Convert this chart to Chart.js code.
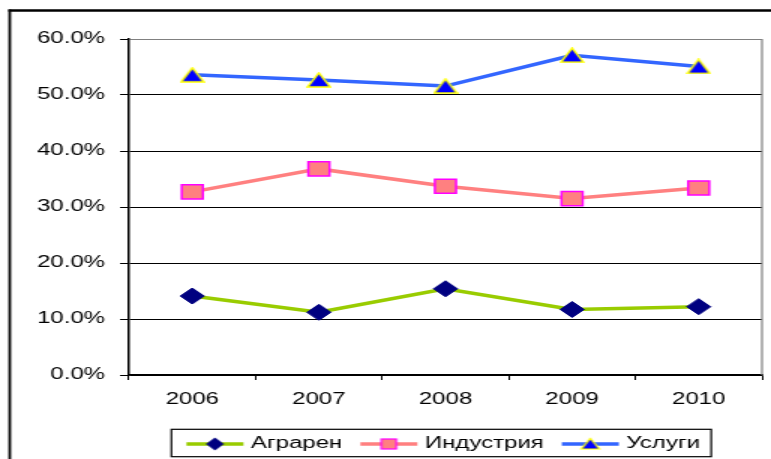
<!DOCTYPE html>
<html>
<head>
<meta charset="utf-8">
<script src="https://cdn.jsdelivr.net/npm/chart.js@4.4.1/dist/chart.umd.min.js"></script>
<style>
  html, body { margin: 0; padding: 0; background: #fff; }
  #wrap { width: 771px; height: 459px; overflow: hidden; }
</style>
</head>
<body>
<!-- the source picture is stretched ~1.5x sideways, so draw at 514 wide and scale up -->
<div id="wrap"><canvas id="chart" width="514" height="459" style="width:771px;height:459px"></canvas></div>
<script>
var years = ['2006', '2007', '2008', '2009', '2010'];
var agrarian = [14.1, 11.2, 15.4, 11.7, 12.2];
var industry = [32.7, 36.8, 33.7, 31.5, 33.4];
var services = [53.6, 52.7, 51.6, 57.1, 55.1];
var yTicks = [0, 10, 20, 30, 40, 50, 60];
var names = ['Аграрен', 'Индустрия', 'Услуги'];

Chart.defaults.font.family = '"Liberation Sans", Arial, sans-serif';
Chart.defaults.font.size = 16;
Chart.defaults.color = '#000';

function makeCanvas(w, h, draw) {
    var c = document.createElement('canvas');
    c.width = w;
    c.height = h;
    draw(c.getContext('2d'));
    return c;
}

// excel style triangle, centred on half its height
var triangle = makeCanvas(17, 16, function (g) {
    g.beginPath();
    g.moveTo(8.5, 1);
    g.lineTo(16, 15);
    g.lineTo(1, 15);
    g.closePath();
    g.fillStyle = '#0000ff';
    g.fill();
    g.lineWidth = 1.5;
    g.strokeStyle = '#ffff00';
    g.stroke();
});

// legend samples: line with the marker in the middle
function sample(lineColor, marker) {
    return makeCanvas(44, 16, function (g) {
        g.fillStyle = lineColor;
        g.fillRect(3, 6.25, 38, 3.5);
        marker(g);
    });
}
var samples = [
    sample('#99cc00', function (g) {
        g.beginPath();
        g.moveTo(22, 1.5); g.lineTo(28, 8); g.lineTo(22, 14.5); g.lineTo(16, 8);
        g.closePath();
        g.fillStyle = '#000080';
        g.fill();
    }),
    sample('#ff8080', function (g) {
        g.fillStyle = '#ff8080';
        g.fillRect(17, 3, 10, 10);
        g.lineWidth = 1.2;
        g.strokeStyle = '#ff00ff';
        g.strokeRect(17, 3, 10, 10);
    }),
    sample('#3366ff', function (g) {
        g.beginPath();
        g.moveTo(22, 2.5); g.lineTo(28, 13); g.lineTo(16, 13);
        g.closePath();
        g.fillStyle = '#0000ff';
        g.fill();
        g.lineWidth = 1.2;
        g.strokeStyle = '#ffff00';
        g.stroke();
    })
];

var frame = {
    id: 'frame',
    afterDraw: function (chart) {
        var ctx = chart.ctx, a = chart.chartArea;
        ctx.save();
        // grey right edge of plot area
        ctx.strokeStyle = '#808080';
        ctx.lineWidth = 1.2;
        ctx.beginPath();
        ctx.moveTo(a.right, a.top);
        ctx.lineTo(a.right, a.bottom);
        ctx.stroke();
        // outer chart border, cut off right and bottom
        ctx.strokeStyle = '#000';
        ctx.lineWidth = 1.8;
        ctx.beginPath();
        ctx.moveTo(6.5, 9.5);
        ctx.lineTo(6.5, 470);
        ctx.stroke();
        ctx.lineWidth = 2.3;
        ctx.beginPath();
        ctx.moveTo(5.6, 10.5);
        ctx.lineTo(520, 10.5);
        ctx.stroke();
        // box round the legend
        var hb = chart.legend.legendHitBoxes;
        var first = hb[0], last = hb[hb.length - 1];
        var x0 = first.left - 13, x1 = last.left + last.width + 7.4;
        ctx.lineWidth = 1.2;
        ctx.strokeRect(x0, first.top - 6.7, x1 - x0, 27.4);
        ctx.restore();
    }
};

new Chart(document.getElementById('chart'), {
    type: 'line',
    data: {
        labels: years,
        datasets: [{
            label: names[0],
            data: agrarian,
            borderColor: '#99cc00',
            borderWidth: 3.5,
            pointStyle: 'rectRot',
            pointRadius: 8,
            pointBackgroundColor: '#000080',
            pointBorderColor: '#000080',
            pointBorderWidth: 1
        }, {
            label: names[1],
            data: industry,
            borderColor: '#ff8080',
            borderWidth: 3.5,
            pointStyle: 'rect',
            pointRadius: 10,
            pointBackgroundColor: '#ff8080',
            pointBorderColor: '#ff00ff',
            pointBorderWidth: 1.5
        }, {
            label: names[2],
            data: services,
            borderColor: '#3366ff',
            borderWidth: 3.5,
            pointStyle: triangle,
            pointRadius: 8
        }]
    },
    options: {
        responsive: false,
        devicePixelRatio: 1,
        animation: false,
        events: [],
        layout: {
            autoPadding: false,
            padding: { left: 0, right: 6, top: 39, bottom: -3 }
        },
        scales: {
            x: {
                offset: true,
                afterFit: function (s) {
                    s.height = 46;
                    s.paddingLeft = 0;
                    s.paddingRight = 0;
                },
                grid: {
                    offset: true,
                    drawOnChartArea: false,
                    tickLength: 5,
                    color: function (c) { return c.index === years.length ? '#808080' : '#000'; }
                },
                border: { color: '#000', width: 1.5 },
                ticks: { padding: 10, color: '#000', maxRotation: 0 }
            },
            y: {
                min: 0,
                max: 60,
                afterFit: function (s) { s.width = 86; },
                afterBuildTicks: function (s) {
                    s.ticks = yTicks.map(function (v) { return { value: v }; });
                },
                grid: {
                    color: function (c) { return c.tick && c.tick.value === 60 ? '#808080' : '#000'; },
                    lineWidth: 1,
                    tickLength: 6,
                    tickColor: '#000'
                },
                border: { color: '#000', width: 1.5 },
                ticks: {
                    padding: 10,
                    color: '#000',
                    callback: function (v) { return v.toFixed(1) + '%'; }
                }
            }
        },
        plugins: {
            tooltip: { enabled: false },
            legend: {
                position: 'bottom',
                fullSize: false,
                labels: {
                    usePointStyle: true,
                    pointStyleWidth: 32,
                    padding: 15,
                    color: '#000',
                    generateLabels: function (chart) {
                        return chart.data.datasets.map(function (ds, i) {
                            return {
                                text: ds.label,
                                pointStyle: samples[i],
                                datasetIndex: i,
                                fontColor: '#000',
                                lineWidth: 0
                            };
                        });
                    }
                }
            }
        }
    },
    plugins: [frame]
});
</script>
</body>
</html>
